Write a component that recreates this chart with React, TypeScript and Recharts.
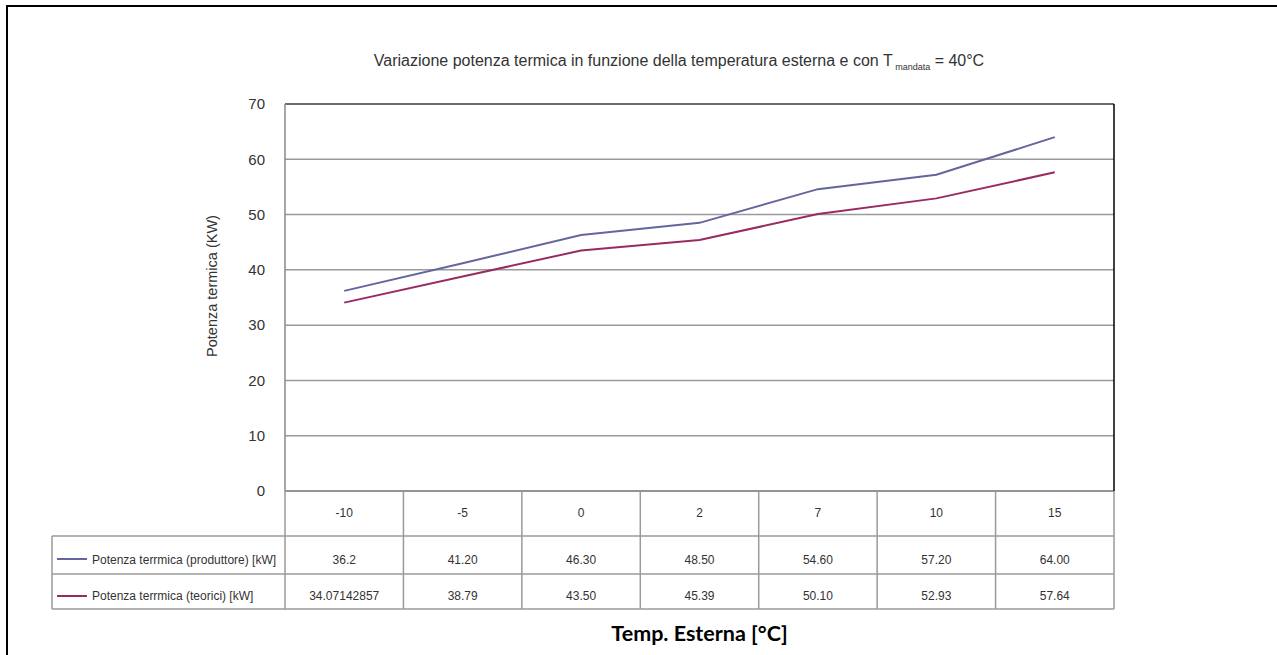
import React from 'react';
import { LineChart, Line, XAxis, YAxis, CartesianGrid, ReferenceLine } from 'recharts';

const CATEGORIES = ['-10', '-5', '0', '2', '7', '10', '15'];
// values as printed in the data table
const PRODUTTORE = ['36.2', '41.20', '46.30', '48.50', '54.60', '57.20', '64.00'];
const TEORICI = ['34.07142857', '38.79', '43.50', '45.39', '50.10', '52.93', '57.64'];
const Y_TICKS = [0, 10, 20, 30, 40, 50, 60, 70];

const SERIES = [
  { key: 'produttore', name: 'Potenza terrmica (produttore) [kW]', color: '#65659f', values: PRODUTTORE },
  { key: 'teorici', name: 'Potenza terrmica (teorici) [kW]', color: '#982c60', values: TEORICI },
];

const W = 1277;
const H = 655;
const PLOT_LEFT = 285;
const PLOT_RIGHT = 1114;
const TABLE_LEFT = 52;
const BAND = (PLOT_RIGHT - PLOT_LEFT) / CATEGORIES.length;
const FONT = '"Liberation Sans", Arial, sans-serif';
const GRID = '#9a9a9a';

const data = CATEGORIES.map((c, i) => ({
  temp: c,
  produttore: Number(PRODUTTORE[i]),
  teorici: Number(TEORICI[i]),
}));

function TableTick(props: any) {
  const { x, y, payload } = props;
  const i = payload.index;
  const left = x - BAND / 2;
  const right = x + BAND / 2;
  const rows = [45, 83, 118];
  const line = { stroke: GRID, strokeWidth: 1.5 };
  return (
    <g>
      <line x1={right} y1={y} x2={right} y2={y + 118} {...line} />
      {i === 0 && <line x1={left} y1={y} x2={left} y2={y + 118} {...line} />}
      {rows.map((r) => (
        <line key={r} x1={left} y1={y + r} x2={right} y2={y + r} {...line} />
      ))}
      <text x={x} y={y + 22} textAnchor="middle" dominantBaseline="central" fontSize={12} fill="#333" fontFamily={FONT}>
        {payload.value}
      </text>
      {SERIES.map((s, k) => (
        <text key={s.key} x={x} y={y + 69 + k * 36} textAnchor="middle" dominantBaseline="central" fontSize={12} fill="#333" fontFamily={FONT}>
          {s.values[i]}
        </text>
      ))}
      {i === 0 && (
        <g>
          {rows.map((r) => (
            <line key={r} x1={TABLE_LEFT} y1={y + r} x2={left} y2={y + r} {...line} />
          ))}
          <line x1={TABLE_LEFT} y1={y + 45} x2={TABLE_LEFT} y2={y + 118} {...line} />
          {SERIES.map((s, k) => (
            <g key={s.key}>
              <line x1={57} y1={y + 68 + k * 37} x2={87} y2={y + 68 + k * 37} stroke={s.color} strokeWidth={2} />
              <text x={92} y={y + 69 + k * 36} dominantBaseline="central" fontSize={12} fill="#333" fontFamily={FONT}>
                {s.name}
              </text>
            </g>
          ))}
        </g>
      )}
    </g>
  );
}

export default function App() {
  return (
    <div style={{ position: 'absolute', left: 0, top: 0, width: W, height: H, background: '#fff', overflow: 'hidden' }}>
      <div style={{ position: 'absolute', left: 6, top: 5, width: W, height: H, borderTop: '2px solid #000', borderLeft: '2px solid #000' }} />
      <div style={{ position: 'absolute', left: 279, top: 52, width: 800, textAlign: 'center', fontFamily: FONT, fontSize: 16, color: '#333', whiteSpace: 'nowrap' }}>
        Variazione potenza termica in funzione della temperatura esterna e con T
        <sub style={{ fontSize: 9 }}> mandata</sub> = 40°C
      </div>
      <div style={{ position: 'absolute', left: 212, top: 286, transform: 'translate(-50%, -50%) rotate(-90deg)', fontFamily: FONT, fontSize: 14.5, color: '#333', whiteSpace: 'nowrap' }}>
        Potenza termica (KW)
      </div>
      <div style={{ position: 'absolute', left: 0, top: 0 }}>
        <LineChart width={W} height={H} data={data} margin={{ top: 104, right: 162, bottom: 14, left: 210 }}>
          <CartesianGrid horizontal vertical={false} stroke={GRID} strokeWidth={1.5} />
          <XAxis
            dataKey="temp"
            scale="band"
            interval={0}
            height={150}
            tickSize={0}
            tickMargin={0}
            tickLine={false}
            axisLine={{ stroke: '#888', strokeWidth: 1.5 }}
            tick={(p: any) => <TableTick {...p} />}
            label={{ value: 'Temp. Esterna [°C]', position: 'insideBottom', offset: 0, fill: '#000', fontSize: 21.5, fontWeight: 700, fontFamily: 'Lato, sans-serif' }}
          />
          <YAxis
            width={75}
            domain={[0, 70]}
            ticks={Y_TICKS}
            tickSize={0}
            tickMargin={20}
            tickLine={false}
            axisLine={{ stroke: '#888', strokeWidth: 1.5 }}
            tick={{ fontSize: 15, fill: '#333', fontFamily: FONT }}
          />
          <YAxis yAxisId="frame" orientation="right" width={1} domain={[0, 70]} tick={false} tickLine={false} axisLine={{ stroke: '#000', strokeWidth: 1.5 }} />
          <ReferenceLine y={70} stroke="#555" strokeWidth={1.5} />
          {SERIES.map((s) => (
            <Line key={s.key} type="linear" dataKey={s.key} name={s.name} stroke={s.color} strokeWidth={2} dot={false} isAnimationActive={false} />
          ))}
        </LineChart>
      </div>
    </div>
  );
}
